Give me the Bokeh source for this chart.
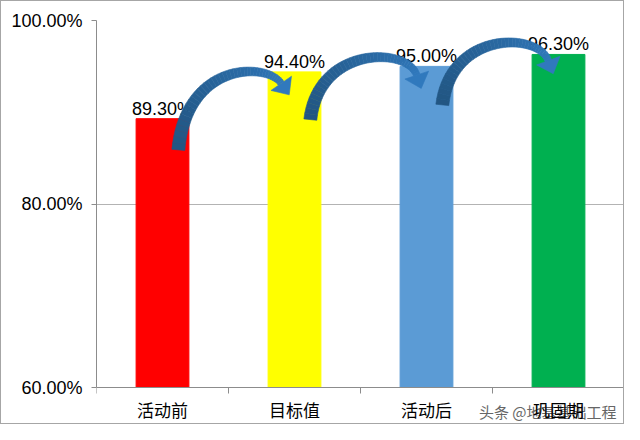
import numpy as np
from bokeh.plotting import figure
from bokeh.models import ColumnDataSource, FixedTicker, Range1d
from bokeh.embed import file_html
from bokeh.resources import INLINE

# data
categories = ["活动前", "目标值", "活动后", "巩固期"]
values = [89.3, 94.4, 95.0, 96.3]
value_labels = ["89.30%", "94.40%", "95.00%", "96.30%"]
bar_colors = ["#FF0000", "#FFFF00", "#5B9BD5", "#00B050"]
y_ticks = [60, 80, 100]
y_tick_labels = ["60.00%", "80.00%", "100.00%"]
watermark = "头条 @地基基础工程"

# arrow shape (annotation styling, relative to the bars)
arrow_tail_drop = [3.4, 5.2, 4.2]
arrow_tip_drop = [2.5, 2.4, 2.1]
arrow_lift = [-0.4, 0.8, 1.1]
arrow_dir = [(0.57, -0.82), (0.32, -0.95), (0.35, -0.94)]

W, H = 624, 424
FL, FR, FT = 95, 1, 19
fw = W - FL - FR
x0, x1 = 0, len(categories)
y0, y1 = 60, 100
sx = fw / (x1 - x0)
sy = 367 / (y1 - y0)          # px per percent
ybot = y1 - (H - FT) / sy     # frame runs to the bottom so texts below the axis are drawn

p = figure(width=W, height=H, output_backend="svg", toolbar_location=None,
           x_range=Range1d(x0, x1), y_range=Range1d(ybot, y1),
           min_border_left=FL, min_border_right=FR, min_border_top=FT,
           min_border_bottom=0)
p.styles = {"border": "1px solid #a6a6a6"}
p.outline_line_color = None
p.xgrid.grid_line_color = None
p.ygrid.ticker = FixedTicker(ticks=[t for t in y_ticks if t > y0])
p.ygrid.grid_line_color = "#b3b3b3"

xc = [i + 0.5 for i in range(len(categories))]
src = ColumnDataSource(dict(x=xc, top=values, color=bar_colors, lab=value_labels))
p.vbar(x="x", top="top", bottom=y0, width=0.4, color="color", source=src)

# y axis
p.yaxis.bounds = (y0, y1)
p.yaxis.ticker = FixedTicker(ticks=y_ticks)
p.yaxis.major_label_overrides = {t: l for t, l in zip(y_ticks, y_tick_labels)}
p.yaxis.axis_line_color = "#8c8c8c"
p.yaxis.major_tick_line_color = "#8c8c8c"
p.yaxis.major_tick_out = 5
p.yaxis.major_tick_in = 0
p.yaxis.minor_tick_line_color = None
p.yaxis.major_label_standoff = 9
p.yaxis.major_label_text_font = "Liberation Sans"
p.yaxis.major_label_text_font_size = "18px"
p.yaxis.major_label_text_color = "#000000"

# x axis, pinned at 60%
p.xaxis.fixed_location = y0
p.xaxis.ticker = FixedTicker(ticks=xc, minor_ticks=list(range(len(categories) + 1)))
p.xaxis.major_label_overrides = {x: c for x, c in zip(xc, categories)}
p.xaxis.axis_line_color = "#8c8c8c"
p.xaxis.major_tick_line_color = None
p.xaxis.major_tick_out = 0
p.xaxis.major_tick_in = 0
p.xaxis.minor_tick_line_color = "#8c8c8c"
p.xaxis.minor_tick_out = 6
p.xaxis.minor_tick_in = 0
p.xaxis.major_label_standoff = 3
p.xaxis.major_label_text_font = "Noto Sans CJK SC"
p.xaxis.major_label_text_font_size = "17px"
p.xaxis.major_label_text_color = "#000000"

# value labels
p.text(x="x", y="top", text="lab", source=src, text_align="center",
       text_baseline="alphabetic", y_offset=-10, text_font_size="18px",
       text_color="#000000", text_font={"value": "Liberation Sans"})


# curved arrows between bars (built in screen pixels, mapped back to data)
def hexmix(a, b, t):
    ca = np.array([int(a[i:i + 2], 16) for i in (1, 3, 5)])
    cb = np.array([int(b[i:i + 2], 16) for i in (1, 3, 5)])
    c = (ca + (cb - ca) * t).round().astype(int)
    return "#%02x%02x%02x" % tuple(c)


xs_all, ys_all, cols = [], [], []
for i in range(len(values) - 1):
    tail = np.array([(i + 0.62) * sx, (values[i] - arrow_tail_drop[i] - y0) * sy])
    tip = np.array([(i + 1.46) * sx, (values[i + 1] - arrow_tip_drop[i] - y0) * sy])
    peak = (values[i + 1] + arrow_lift[i] - y0) * sy
    d = np.array(arrow_dir[i])
    d = d / np.linalg.norm(d)
    hl, hw = 14.0, 12.5
    P3 = tip - d * hl
    P0 = tail
    c = (8 * peak - P0[1] - P3[1]) / 6
    P1 = np.array([P0[0] + 8, c])
    s = (c - P3[1]) / (-d[1])
    P2 = P3 - d * s
    ts = np.linspace(0, 1, 41)
    pts = ((1 - ts)[:, None] ** 3 * P0 + 3 * ((1 - ts) ** 2 * ts)[:, None] * P1
           + 3 * ((1 - ts) * ts ** 2)[:, None] * P2 + (ts ** 3)[:, None] * P3)
    der = (3 * ((1 - ts) ** 2)[:, None] * (P1 - P0) + 6 * ((1 - ts) * ts)[:, None] * (P2 - P1)
           + 3 * (ts ** 2)[:, None] * (P3 - P2))
    nrm = np.stack([-der[:, 1], der[:, 0]], axis=1)
    nrm = nrm / np.linalg.norm(nrm, axis=1)[:, None]
    wid = 6.5 - 3.2 * ts
    L = pts + nrm * wid[:, None]
    R = pts - nrm * wid[:, None]
    for k in range(len(ts) - 1):
        quad = np.array([L[k], L[k + 1], R[k + 1], R[k]])
        xs_all.append(list(quad[:, 0] / sx))
        ys_all.append(list(quad[:, 1] / sy + y0))
        cols.append(hexmix("#225683", "#3079bd", ts[k]))
    nd = np.array([-d[1], d[0]])
    tri = np.array([P3 + nd * hw, tip, P3 - nd * hw])
    xs_all.append(list(tri[:, 0] / sx))
    ys_all.append(list(tri[:, 1] / sy + y0))
    cols.append("#3079bd")

asrc = ColumnDataSource(dict(xs=xs_all, ys=ys_all, color=cols))
p.patches("xs", "ys", fill_color="color", line_color="color", line_width=0.6,
          source=asrc)

# watermark
p.text(x=[x1 - 8 / sx], y=[y0 - 24 / sy], text=[watermark], text_align="right",
       text_baseline="middle", text_font={"value": "Noto Sans CJK SC"},
       text_font_size="15px", text_color="#666666")

open("out.html", "w").write(file_html(p, INLINE))
